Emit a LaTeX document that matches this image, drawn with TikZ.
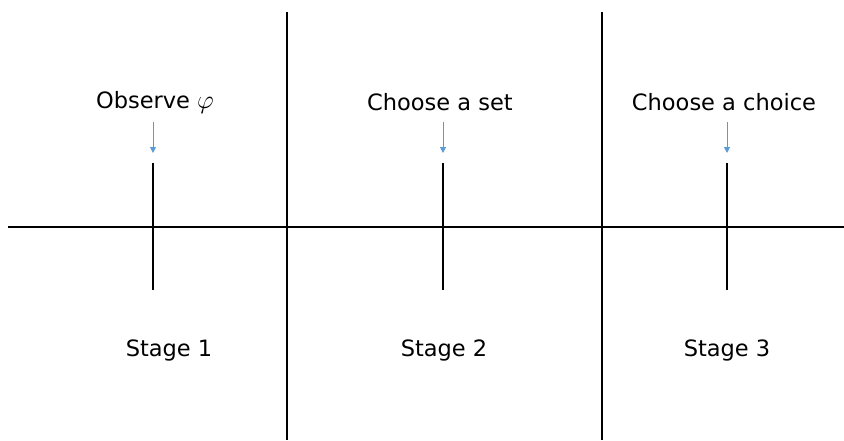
\documentclass[tikz,border=0pt]{standalone}
\usepackage{fontspec}
\setmainfont{DejaVu Sans}
\usetikzlibrary{arrows.meta}
\definecolor{arrowblue}{RGB}{91,155,213}
\begin{document}
\begin{tikzpicture}[x=1pt,y=-1pt,
  axis/.style={line width=2pt,black},
  tick/.style={line width=2pt,black},
  cue/.style={arrowblue,line width=1pt,-{Triangle[width=6pt,length=6pt]}},
  lbl/.style={font=\fontsize{22.5}{26}\selectfont,inner sep=0pt}]
\useasboundingbox (0,0) rectangle (844,440);
% axis
\coordinate (axL) at (8,227);
\coordinate (axR) at (844,227);
\draw[axis] (axL) -- (axR);
% dividers
\coordinate (d1t) at (287,12); \coordinate (d1b) at (287,440);
\coordinate (d2t) at (602,12); \coordinate (d2b) at (602,440);
\draw[axis] (d1t) -- (d1b);
\draw[axis] (d2t) -- (d2b);
% ticks
\foreach \n/\x in {1/153,2/443,3/727}{
  \coordinate (t\n t) at (\x,163);
  \coordinate (t\n b) at (\x,290);
  \draw[tick] (t\n t) -- (t\n b);
  \coordinate (a\n s) at (\x,122);
  \coordinate (a\n e) at (\x,153);
  \draw[cue] (a\n s) -- (a\n e);
}
% labels
\node[lbl] (o1) at (155,102) {Observe \scalebox{1.25}{$\varphi$}};
\node[lbl] (o2) at (440,102) {Choose a set};
\node[lbl] (o3) at (724,102) {Choose a choice};
\node[lbl] (s1) at (169,350) {Stage 1};
\node[lbl] (s2) at (444,350) {Stage 2};
\node[lbl] (s3) at (727,350) {Stage 3};
\end{tikzpicture}
\end{document}
